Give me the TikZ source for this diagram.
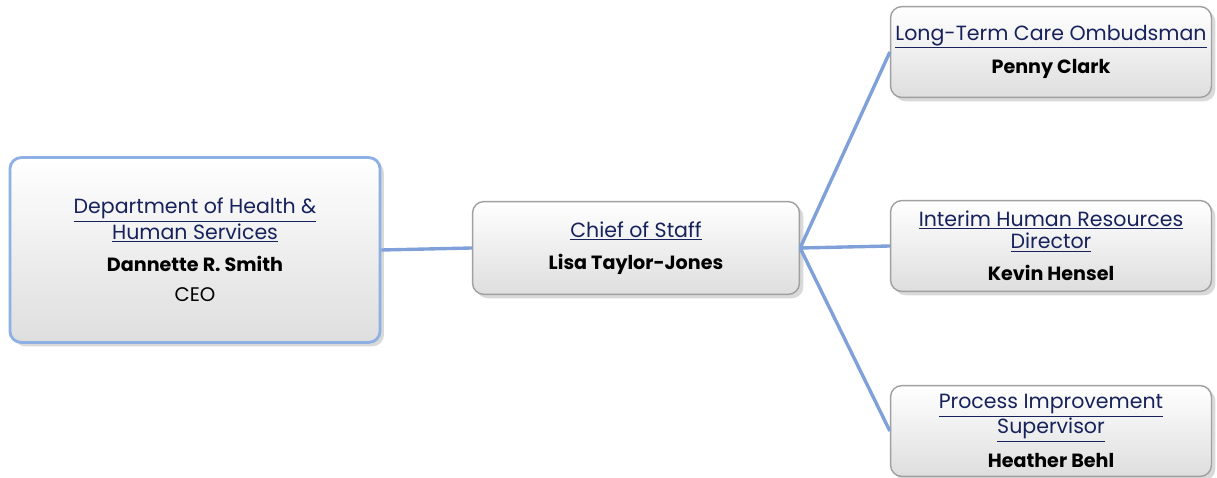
\documentclass[tikz,border=0pt]{standalone}
\usepackage{fontspec}
\setmainfont{Poppins}
\usetikzlibrary{shadows}

\definecolor{titleblue}{HTML}{17225C}
\definecolor{linkline}{HTML}{7FA0D8}
\definecolor{edgeblue}{HTML}{8FB0E4}
\definecolor{edgegray}{HTML}{A0A0A0}
\newcommand{\ttl}[1]{\textcolor{titleblue}{\fontsize{14.6}{15.8}\selectfont\underline{#1}}}
\newcommand{\who}[1]{{\fontsize{13.6}{15.8}\selectfont\textbf{#1}}}

\begin{document}
\begin{tikzpicture}[x=0.025cm,y=-0.025cm]
   \useasboundingbox (0,0) rectangle (1217,478);
   \begin{scope}[every node/.style={draw=edgegray,line width=1pt,rounded corners=8pt,
       top color=white,bottom color=black!13,drop shadow={opacity=0.3},
       align=center,inner sep=0pt,font=\fontsize{14}{15.8}\selectfont}]
    \node[draw=edgeblue,line width=2pt,minimum width=9.25cm,minimum height=4.62cm] (dhhs) at (195,250)
      {\ttl{Department of Health \&}\\ \ttl{Human Services}\\[7pt] \who{Dannette R. Smith}\\[6pt] CEO};
    \node[minimum width=8.17cm,minimum height=2.32cm] (cos) at (636,248)
      {\ttl{Chief of Staff}\\[7pt] \who{Lisa Taylor-Jones}};
    \node[minimum width=8.02cm,minimum height=2.27cm] (ltc) at (1051,52)
      {\ttl{Long-Term Care Ombudsman}\\[7pt] \who{Penny Clark}};
    \node[minimum width=8.02cm,minimum height=2.27cm] (hrd) at (1051,246)
      {\ttl{Interim Human Resources}\\ \ttl{Director}\\[7pt] \who{Kevin Hensel}};
    \node[minimum width=8.02cm,minimum height=2.27cm] (pis) at (1051,431)
      {\ttl{Process Improvement}\\ \ttl{Supervisor}\\[7pt] \who{Heather Behl}};
   \end{scope}
   \begin{scope}[every path/.style={draw=linkline,line width=2.4pt}]
    \draw (dhhs.east) -- (cos.west);
    \draw (cos.east) -- (ltc.west);
    \draw (cos.east) -- (hrd.west);
    \draw (cos.east) -- (pis.west);
   \end{scope}
\end{tikzpicture}
\end{document}
